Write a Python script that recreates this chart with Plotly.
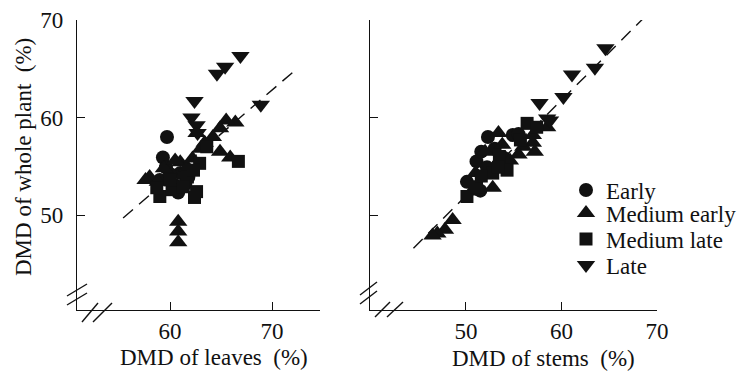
import plotly.graph_objects as go

# ---------------- data ----------------
groups = ["Early", "Medium early", "Medium late", "Late"]
symbols = {"Early": "circle", "Medium early": "triangle-up",
           "Medium late": "square", "Late": "triangle-down"}
sizes = {"Early": 14, "Medium early": 16, "Medium late": 13, "Late": 16}

# Left panel: DMD of leaves (x) vs DMD of whole plant (y)
leaves_early_x = [59.7, 59.3, 59.6, 60.4, 61.0, 60.8, 59.0, 61.5, 60.0, 61.8]
leaves_early_y = [58.0, 55.9, 54.9, 53.1, 54.3, 52.3, 53.6, 53.2, 54.2, 53.9]
leaves_medearly_x = [66.4, 65.5, 64.9, 64.2, 63.4, 64.9, 65.9, 62.6, 58.0, 58.8, 61.0, 61.7,
                     60.8, 60.8, 60.8, 63.0, 59.4, 60.5, 62.2, 57.6]
leaves_medearly_y = [59.5, 59.7, 58.9, 58.0, 57.4, 56.5, 55.9, 58.4, 53.9, 53.4, 55.4, 54.9,
                     49.3, 48.3, 47.2, 56.8, 54.8, 55.6, 55.8, 53.6]
leaves_medlate_x = [66.7, 62.9, 62.6, 62.4, 59.0, 60.2, 63.6, 61.7, 58.7, 61.3, 60.0, 62.3]
leaves_medlate_y = [55.5, 55.3, 52.4, 51.8, 51.9, 52.6, 57.0, 53.9, 52.8, 52.9, 53.6, 54.6]
leaves_late_x = [66.9, 65.4, 64.6, 68.9, 62.4, 62.1, 62.6, 62.7]
leaves_late_y = [66.3, 65.2, 64.5, 61.3, 61.7, 60.0, 59.2, 58.4]

# Right panel: DMD of stems (x) vs DMD of whole plant (y)
stems_early_x = [52.3, 54.9, 51.1, 50.1, 52.2, 53.9, 55.5, 51.5, 51.6, 53.0]
stems_early_y = [58.0, 58.2, 55.5, 53.4, 54.9, 55.9, 58.3, 52.5, 56.5, 56.8]
stems_medearly_x = [57.0, 57.2, 57.0, 53.4, 52.8, 48.6, 47.8, 47.0, 46.5, 56.0, 54.6, 58.5,
                    52.0, 51.0, 55.5, 50.6, 53.8]
stems_medearly_y = [57.4, 56.5, 58.2, 58.4, 52.8, 49.5, 48.5, 48.1, 47.9, 57.0, 55.6, 59.0,
                    56.5, 54.3, 56.2, 52.4, 57.2]
stems_medlate_x = [56.4, 57.4, 50.1, 51.1, 52.8, 54.3, 55.7, 53.5, 51.6, 53.4]
stems_medlate_y = [59.4, 59.0, 51.9, 52.9, 54.3, 54.6, 57.7, 56.0, 54.0, 54.9]
stems_late_x = [64.6, 63.5, 61.1, 60.2, 57.7, 58.5, 58.8]
stems_late_y = [67.1, 65.1, 64.4, 62.1, 61.5, 59.9, 59.7]

# Fitted lines (end points)
leaves_fit_x = [55.4, 72.1]
leaves_fit_y = [49.7, 64.7]
stems_fit_x = [44.5, 68.6]
stems_fit_y = [46.6, 70.2]

x_left_ticks = [60, 70]
x_right_ticks = [50, 60, 70]
y_ticks = [50, 60, 70]

left_data = {
    "Early": (leaves_early_x, leaves_early_y),
    "Medium early": (leaves_medearly_x, leaves_medearly_y),
    "Medium late": (leaves_medlate_x, leaves_medlate_y),
    "Late": (leaves_late_x, leaves_late_y),
}
right_data = {
    "Early": (stems_early_x, stems_early_y),
    "Medium early": (stems_medearly_x, stems_medearly_y),
    "Medium late": (stems_medlate_x, stems_medlate_y),
    "Late": (stems_late_x, stems_late_y),
}

W, H = 740, 374
FONT = "Liberation Serif, Times New Roman, serif"
INK = "#111111"


def px(x):
    return x / W


def py(y):
    return 1 - y / H


fig = go.Figure()

# fit lines
fig.add_trace(go.Scatter(x=leaves_fit_x, y=leaves_fit_y, mode="lines",
                         line=dict(color=INK, width=1.4, dash="13px,8px"),
                         xaxis="x", yaxis="y", showlegend=False, hoverinfo="skip"))
fig.add_trace(go.Scatter(x=stems_fit_x, y=stems_fit_y, mode="lines",
                         line=dict(color=INK, width=1.4, dash="13px,8px"),
                         xaxis="x2", yaxis="y2", showlegend=False, hoverinfo="skip"))

legend_ids = ["legend", "legend2", "legend3", "legend4"]
for g, lid in zip(groups, legend_ids):
    xs, ys = left_data[g]
    fig.add_trace(go.Scatter(x=xs, y=ys, mode="markers", name=g,
                             marker=dict(symbol=symbols[g], size=sizes[g], color=INK),
                             xaxis="x", yaxis="y", showlegend=False))
for g, lid in zip(groups, legend_ids):
    xs, ys = right_data[g]
    fig.add_trace(go.Scatter(x=xs, y=ys, mode="markers", name=g,
                             marker=dict(symbol=symbols[g], size=sizes[g], color=INK),
                             xaxis="x2", yaxis="y2", showlegend=True, legend=lid))

axis_common = dict(showline=True, linecolor=INK, linewidth=1.4, ticks="inside",
                   ticklen=8, tickwidth=1.4, tickcolor=INK, showgrid=False,
                   zeroline=False, automargin=False,
                   tickfont=dict(family=FONT, size=23, color=INK))

y_dom = [py(310), py(20)]
y_range = [40.26, 70]

fig.update_layout(
    width=W, height=H,
    margin=dict(l=0, r=0, t=0, b=0, autoexpand=False),
    paper_bgcolor="white", plot_bgcolor="white",
    font=dict(family=FONT, size=23, color=INK),
    xaxis=dict(domain=[px(77), px(320)], range=[50.88, 74.7], tickvals=x_left_ticks,
               anchor="y", ticklabelstandoff=0, **axis_common),
    yaxis=dict(domain=y_dom, range=y_range, tickvals=y_ticks, anchor="x",
               ticklabelstandoff=8, **axis_common),
    xaxis2=dict(domain=[px(370), px(657)], range=[39.95, 70], tickvals=x_right_ticks,
                anchor="y2", ticklabelstandoff=0, **axis_common),
    yaxis2=dict(domain=y_dom, range=y_range, tickvals=y_ticks, anchor="x2",
                showticklabels=False, **axis_common),
)

legend_rows = [190, 213, 239, 265]
for lid, row in zip(legend_ids, legend_rows):
    fig.update_layout(**{lid: dict(x=px(566), y=py(row), xanchor="left", yanchor="middle",
                                   bgcolor="rgba(0,0,0,0)", borderwidth=0,
                                   font=dict(family=FONT, size=23, color=INK),
                                   itemwidth=30, tracegroupgap=0)})

# axis titles
title_font = dict(family=FONT, size=23, color=INK)
fig.add_annotation(text="DMD of whole plant\u00a0 (%)", x=px(23), y=py(157),
                   xref="paper", yref="paper", xanchor="center", yanchor="middle",
                   textangle=-90, showarrow=False, font=title_font)
fig.add_annotation(text="DMD of leaves\u00a0 (%)", x=px(214), y=py(357),
                   xref="paper", yref="paper", xanchor="center", yanchor="middle",
                   showarrow=False, font=title_font)
fig.add_annotation(text="DMD of stems\u00a0 (%)", x=px(543), y=py(358),
                   xref="paper", yref="paper", xanchor="center", yanchor="middle",
                   showarrow=False, font=title_font)

# axis break marks
breaks = [
    ((67, 296), (87, 284)), ((67, 305), (87, 293)),
    ((82, 322), (98, 303)), ((93, 322), (112, 303)),
    ((360, 295), (377, 282)), ((360, 304), (377, 291)),
    ((375, 317), (390, 302)), ((387, 317), (403, 302)),
]
for (x0, y0), (x1, y1) in breaks:
    fig.add_shape(type="line", xref="paper", yref="paper",
                  x0=px(x0), y0=py(y0), x1=px(x1), y1=py(y1),
                  line=dict(color=INK, width=1.4))

fig.write_html("out.html", config={"displayModeBar": False},
               post_script="document.body.style.margin='0';document.body.style.overflow='hidden';")
